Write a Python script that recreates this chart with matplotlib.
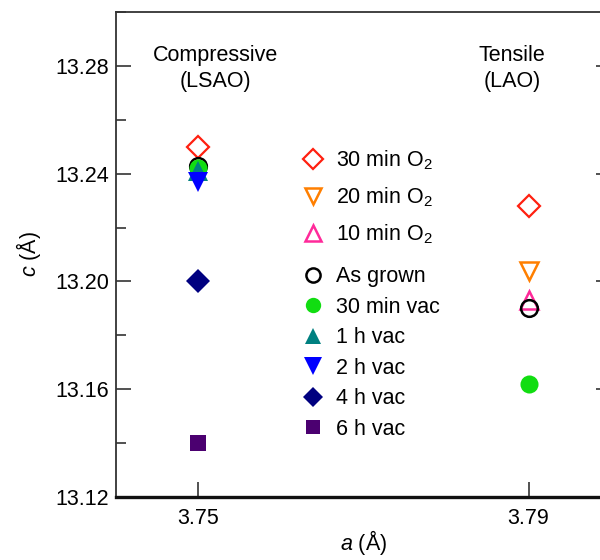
import matplotlib
matplotlib.use("Agg")
import matplotlib.pyplot as plt
from matplotlib.ticker import MultipleLocator
from matplotlib.transforms import blended_transform_factory

plt.rcParams['font.family'] = ['Liberation Sans', 'DejaVu Sans']
plt.rcParams['mathtext.fontset'] = 'custom'
plt.rcParams['mathtext.rm'] = 'Liberation Sans'
plt.rcParams['mathtext.it'] = 'Liberation Sans:italic'

# Lattice parameters for each annealing condition
substrates = ["Compressive\n(LSAO)", "Tensile\n(LAO)"]
substrate_label_pos = [0.20, 0.80]

labels = ["30 min O$_2$", "20 min O$_2$", "10 min O$_2$", "As grown",
          "30 min vac", "1 h vac", "2 h vac", "4 h vac", "6 h vac"]
a_30min_o2 = [3.75, 3.79]
c_30min_o2 = [13.250, 13.228]
a_20min_o2 = [3.79]
c_20min_o2 = [13.204]
a_10min_o2 = [3.79]
c_10min_o2 = [13.193]
a_as_grown = [3.75, 3.79]
c_as_grown = [13.243, 13.190]
a_30min_vac = [3.75, 3.79]
c_30min_vac = [13.242, 13.162]
a_1h_vac = [3.75]
c_1h_vac = [13.241]
a_2h_vac = [3.75]
c_2h_vac = [13.237]
a_4h_vac = [3.75]
c_4h_vac = [13.200]
a_6h_vac = [3.75]
c_6h_vac = [13.140]

x_ticks = [3.75, 3.79]
y_ticks = [13.12, 13.16, 13.20, 13.24, 13.28]

series = [
    (a_30min_o2, c_30min_o2, dict(marker='D', ms=11.5, mfc='none', mec='#ff2010', mew=1.6)),
    (a_20min_o2, c_20min_o2, dict(marker='v', ms=13.5, mfc='none', mec='#ff7f00', mew=1.8)),
    (a_10min_o2, c_10min_o2, dict(marker='^', ms=13.5, mfc='none', mec='#ff2a9a', mew=1.8)),
    (a_as_grown, c_as_grown, dict(marker='o', ms=12, mfc='none', mec='black', mew=1.8)),
    (a_30min_vac, c_30min_vac, dict(marker='o', ms=13, mfc='#11dd11', mec='#11dd11', mew=0)),
    (a_1h_vac, c_1h_vac, dict(marker='^', ms=14, mfc='#008080', mec='#008080', mew=0)),
    (a_2h_vac, c_2h_vac, dict(marker='v', ms=15, mfc='#0000ff', mec='#0000ff', mew=0)),
    (a_4h_vac, c_4h_vac, dict(marker='D', ms=12, mfc='#000080', mec='#000080', mew=0)),
    (a_6h_vac, c_6h_vac, dict(marker='s', ms=11.5, mfc='#4b0070', mec='#4b0070', mew=0)),
]

FS = 15.5

fig = plt.figure(figsize=(6.0, 5.6), dpi=100)
ax = fig.add_axes([116 / 600, 1 - 497 / 560, (611 - 116) / 600, (497 - 12) / 560])

handles = []
for (xs, ys, style), lab in zip(series, labels):
    h, = ax.plot(xs, ys, linestyle='none', label=lab, clip_on=False, **style)
    handles.append(h)

ax.set_xlim(3.74, 3.80)
ax.set_ylim(13.12, 13.30)
ax.set_xticks(x_ticks)
ax.set_xticklabels([f"{v:.2f}" for v in x_ticks])
ax.set_yticks(y_ticks)
ax.set_yticklabels([f"{v:.2f}" for v in y_ticks])
ax.yaxis.set_minor_locator(MultipleLocator(0.02))

ax.tick_params(axis='both', which='major', direction='in', length=11, width=1.2,
               labelsize=FS, color='#333333', pad=5)
ax.tick_params(axis='y', which='both', right=True)
ax.tick_params(axis='y', which='minor', direction='in', length=7, width=1.2, color='#333333')
ax.tick_params(axis='x', which='major', pad=8)

for side in ['left', 'top', 'right']:
    ax.spines[side].set_linewidth(1.3)
    ax.spines[side].set_color('#333333')
ax.spines['bottom'].set_linewidth(2.4)
ax.spines['bottom'].set_color('#111111')

ax.set_xlabel(r"$\it{a}$ (Å)", fontsize=FS, labelpad=-1)
ax.set_ylabel(r"$\it{c}$ (Å)", fontsize=FS, labelpad=9)

label_tr = blended_transform_factory(ax.transAxes, ax.transData)
for xf, name in zip(substrate_label_pos, substrates):
    ax.text(xf, 13.279, name, transform=label_tr, ha='center', va='center',
            fontsize=FS, linespacing=1.3)

# Oxygen anneals and vacuum anneals are listed as two stacked groups
leg_kw = dict(frameon=False, fontsize=FS, markerscale=0.85, handlelength=1.0,
              handletextpad=0.6, borderpad=0.0, loc='upper left')
leg1 = ax.legend(handles=handles[:3], bbox_to_anchor=(0.354, 0.740),
                 labelspacing=0.62, **leg_kw)
ax.add_artist(leg1)
ax.legend(handles=handles[3:], bbox_to_anchor=(0.354, 0.498),
          labelspacing=0.44, **leg_kw)

fig.savefig("out.png", dpi=100)
